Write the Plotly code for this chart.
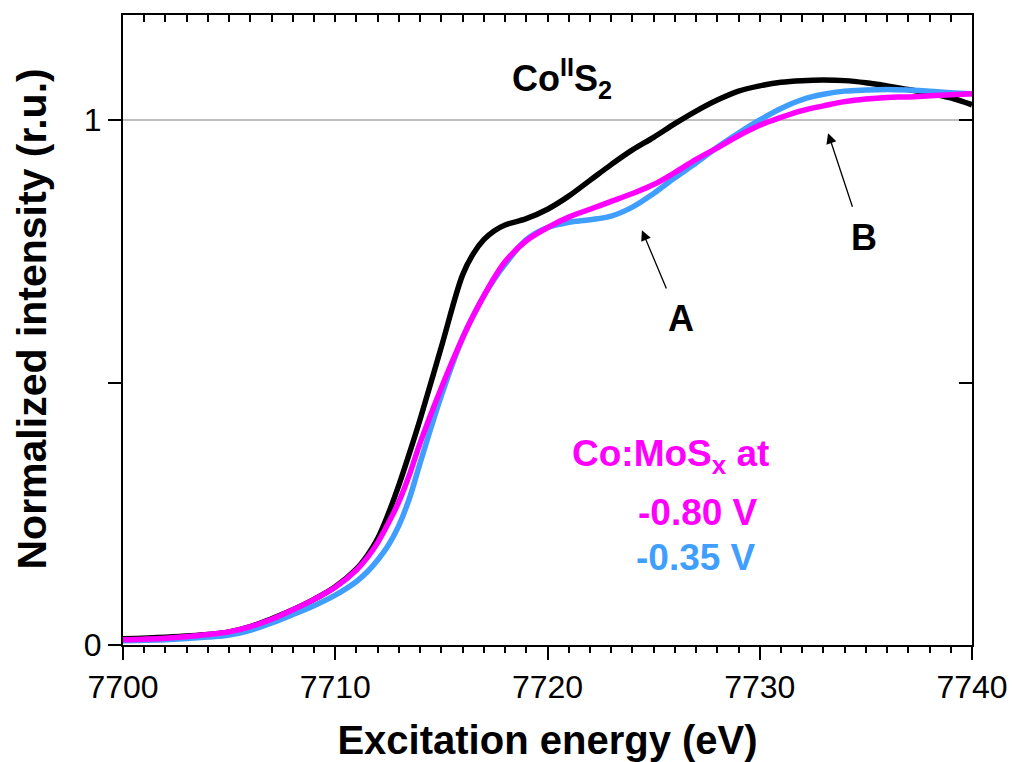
import plotly.graph_objects as go

energy = [7700, 7702, 7704, 7705, 7706, 7707, 7708, 7709, 7710, 7711, 7711.5, 7712, 7712.5, 7713,
          7713.5, 7714, 7715, 7716, 7716.5, 7717, 7717.5, 7718, 7719, 7720, 7721, 7722, 7723, 7724,
          7725, 7726, 7727, 7728, 7729, 7730, 7731, 7732, 7733, 7734, 7735, 7736, 7737, 7738, 7739, 7740]

cos2 = [0.012, 0.015, 0.020, 0.025, 0.035, 0.050, 0.067, 0.087, 0.111, 0.145, 0.170, 0.203, 0.250, 0.305,
        0.366, 0.430, 0.568, 0.705, 0.745, 0.772, 0.789, 0.800, 0.812, 0.830, 0.855, 0.885, 0.915, 0.943,
        0.967, 0.993, 1.017, 1.038, 1.055, 1.065, 1.072, 1.075, 1.076, 1.075, 1.071, 1.065, 1.058, 1.051, 1.042, 1.029]

v080 = [0.010, 0.013, 0.020, 0.025, 0.035, 0.049, 0.067, 0.087, 0.110, 0.143, 0.166, 0.195, 0.232, 0.273,
        0.325, 0.385, 0.490, 0.585, 0.627, 0.665, 0.700, 0.730, 0.770, 0.795, 0.815, 0.830, 0.845, 0.860,
        0.877, 0.900, 0.925, 0.947, 0.970, 0.990, 1.005, 1.018, 1.027, 1.035, 1.040, 1.043, 1.044, 1.046, 1.048, 1.050]

v035 = [0.008, 0.010, 0.015, 0.019, 0.028, 0.042, 0.058, 0.075, 0.095, 0.121, 0.139, 0.162, 0.190, 0.228,
        0.280, 0.347, 0.475, 0.585, 0.627, 0.665, 0.697, 0.725, 0.772, 0.795, 0.805, 0.810, 0.817, 0.834,
        0.860, 0.890, 0.918, 0.948, 0.975, 1.000, 1.022, 1.039, 1.049, 1.055, 1.057, 1.058, 1.057, 1.055, 1.052, 1.050]

x_ticks = [7700, 7710, 7720, 7730, 7740]
y_ticks = [0, 0.5, 1]
y_ticktext = ["0", "", "1"]

BLACK = "#000000"
MAGENTA = "#FF00FF"
BLUE = "#409EFF"
FONT = "Arial, Liberation Sans, sans-serif"

fig = go.Figure()
for ys, col in [(cos2, BLACK), (v035, BLUE), (v080, MAGENTA)]:
    fig.add_trace(go.Scatter(x=energy, y=ys, mode="lines",
                             line=dict(color=col, width=5.5, shape="spline", smoothing=1.0),
                             showlegend=False))
# invisible trace to anchor mirror axes
fig.add_trace(go.Scatter(x=[7700], y=[0], xaxis="x2", yaxis="y2", mode="markers",
                         marker=dict(opacity=0), showlegend=False, hoverinfo="skip"))

fig.add_shape(type="line", xref="paper", yref="y", x0=0, x1=1, y0=1, y1=1,
              line=dict(color="#808080", width=1), layer="below")

ann_font = dict(family=FONT, size=36, color=BLACK)
anns = [
    dict(x=7720.7, y=1.08, text="<b>Co<sup>II</sup>S<sub>2</sub></b>", font=ann_font),
    dict(x=7725.8, y=0.36, text="<b>Co:MoS<sub>x</sub> at</b>", font=dict(family=FONT, size=37, color=MAGENTA)),
    dict(x=7727.1, y=0.253, text="<b>-0.80 V</b>", font=dict(family=FONT, size=37, color=MAGENTA)),
    dict(x=7727.0, y=0.166, text="<b>-0.35 V</b>", font=dict(family=FONT, size=37, color=BLUE)),
    dict(x=7726.3, y=0.621, text="<b>A</b>", font=ann_font),
    dict(x=7734.9, y=0.777, text="<b>B</b>", font=ann_font),
]
for a in anns:
    a.update(xref="x", yref="y", showarrow=False, xanchor="center", yanchor="middle")

# y-axis title placed as rotated annotation for exact position
anns.append(dict(xref="paper", yref="y", x=0, y=0.62, xshift=-92, xanchor="center", yanchor="middle",
                 textangle=-90, showarrow=False, text="<b>Normalized intensity (r.u.)</b>",
                 font=dict(family=FONT, size=41, color=BLACK)))

arrows = [
    dict(x=7724.45, y=0.790, ax=7725.63, ay=0.676),
    dict(x=7733.22, y=0.975, ax=7734.39, ay=0.832),
]
for a in arrows:
    a.update(xref="x", yref="y", axref="x", ayref="y", text="", showarrow=True,
             arrowhead=2, arrowsize=1.6, arrowwidth=1.3, arrowcolor=BLACK)

fig.update_layout(
    width=1012, height=762,
    margin=dict(l=123, r=40, t=15, b=117),
    paper_bgcolor="white", plot_bgcolor="white",
    font=dict(family=FONT, size=32, color=BLACK),
    annotations=anns + arrows,
    xaxis=dict(
        range=[7700, 7740], tickvals=x_ticks, ticks="outside", ticklen=13, tickwidth=2,
        tickcolor=BLACK, showline=True, linewidth=2, linecolor=BLACK, showgrid=False, zeroline=False,
        minor=dict(dtick=1, tick0=7700, ticks="outside", ticklen=6, tickwidth=2, tickcolor=BLACK, showgrid=False),
        tickfont=dict(size=32), automargin=False,
        title=dict(text="<b>Excitation energy (eV)</b>", font=dict(size=40), standoff=33),
    ),
    xaxis2=dict(
        range=[7700, 7740], overlaying="x", side="top", anchor="y", tickvals=x_ticks, ticks="inside",
        ticklen=7, tickwidth=2, tickcolor=BLACK, showticklabels=False, showline=True, linewidth=2,
        linecolor=BLACK, showgrid=False, zeroline=False, automargin=False,
        minor=dict(dtick=1, tick0=7700, ticks="inside", ticklen=7, tickwidth=2, tickcolor=BLACK, showgrid=False),
    ),
    yaxis=dict(
        range=[0, 1.2], tickvals=y_ticks, ticktext=y_ticktext, ticks="outside", ticklen=13, tickwidth=2,
        tickcolor=BLACK, showline=True, linewidth=2, linecolor=BLACK, showgrid=False, zeroline=False,
        tickfont=dict(size=32), automargin=False,
    ),
    yaxis2=dict(
        range=[0, 1.2], overlaying="y", side="right", anchor="x", tickvals=y_ticks, ticks="inside",
        ticklen=13, tickwidth=2, tickcolor=BLACK, showticklabels=False, showline=True, linewidth=2,
        linecolor=BLACK, showgrid=False, zeroline=False, automargin=False,
    ),
)

# remove the default 8 px page margin so the 1012x762 figure fills the window exactly
fig.write_html("out.html", config={"displayModeBar": False},
               post_script="document.body.style.margin='0';document.body.style.overflow='hidden';")
